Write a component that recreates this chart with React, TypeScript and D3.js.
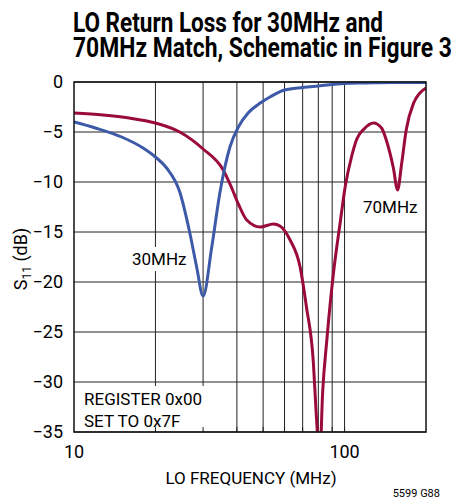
import React, { useLayoutEffect, useRef, useState } from 'react';
import * as d3 from 'd3';

// axis ticks
const freqLabels = [10, 100];
const freqGrid = [20, 30, 40, 50, 60, 70, 80, 90, 100];
const dbTicks = [0, -5, -10, -15, -20, -25, -30, -35];

// 30MHz match (blue)
const blueFreq = [10, 12, 15, 18, 20, 22, 24.6, 26.8, 28.4, 30, 32.3, 34.6, 37.7, 40.5, 44, 48.8, 53, 60, 70, 80, 100, 120, 150, 200];
const blueDb = [-4.0, -4.6, -5.5, -6.6, -7.5, -8.6, -11, -15.1, -18.5, -21.4, -16.5, -11.1, -6.5, -4.5, -3.1, -2.1, -1.5, -0.8, -0.55, -0.4, -0.15, -0.1, -0.05, -0.05];

// 70MHz match (red)
const redFreq = [10, 12.8, 16, 20, 24.6, 30, 35.6, 38, 40.5, 43.5, 48.8, 54.6, 57.7, 62.9, 68.5, 72.3, 76.7, 78.5, 81, 83, 86, 91, 96.3, 100.5, 106.3, 111, 118, 128, 137, 143, 151.5, 157, 162.5, 169, 180, 190, 200];
const redDb = [-3.1, -3.3, -3.6, -4.1, -5.0, -6.7, -8.8, -10.4, -12.2, -13.8, -14.5, -14.2, -14.4, -15.8, -18.5, -22.5, -28.1, -33, -37.5, -31, -25.8, -19.1, -14.1, -10.5, -7.4, -5.7, -4.7, -4.1, -4.6, -5.9, -8.6, -10.8, -8.2, -4.8, -2.1, -1.1, -0.6];

const titleLines = ['LO Return Loss for 30MHz and', '70MHz Match, Schematic in Figure 3'];
const titleWidths = [310, 379];

const W = 458;
const H = 499;
const left = 74, right = 426, top = 82, bottom = 432;
const font = '"Liberation Sans Narrow", "Roboto", sans-serif';

// text squeezed horizontally to a fixed width (condensed look)
function Squeezed(props: { x: number; y: number; width: number; size: number; children: string }) {
  const ref = useRef<SVGTextElement>(null);
  const [sx, setSx] = useState(1);
  useLayoutEffect(() => {
    if (ref.current) {
      const w = ref.current.getComputedTextLength();
      if (w > 0) setSx(props.width / w);
    }
  }, [props.width, props.children]);
  return (
    <text
      ref={ref}
      transform={`translate(${props.x},${props.y}) scale(${sx},1)`}
      fontSize={props.size}
      fontWeight="bold"
    >
      {props.children}
    </text>
  );
}

export default function App() {
  const x = d3.scaleLog().domain([10, 200]).range([left, right]);
  const y = d3.scaleLinear().domain([-35, 0]).range([bottom, top]);

  const line = d3
    .line<[number, number]>()
    .x((d) => x(d[0]))
    .y((d) => y(d[1]))
    .curve(d3.curveMonotoneX);

  const blue = line(blueFreq.map((f, i) => [f, blueDb[i]]) as [number, number][]);
  const red = line(redFreq.map((f, i) => [f, redDb[i]]) as [number, number][]);

  return (
    <svg width={W} height={H} style={{ position: 'absolute', left: 0, top: 0, background: '#fff' }} fontFamily={font}>
      <defs>
        <clipPath id="plot">
          <rect x={left} y={top} width={right - left} height={bottom - top} />
        </clipPath>
      </defs>

      {titleLines.map((t, i) => (
        <Squeezed key={t} x={73} y={32 + i * 25} width={titleWidths[i]} size={27}>
          {t}
        </Squeezed>
      ))}

      {/* grid */}
      {dbTicks.map((d) => (
        <line key={'h' + d} x1={left} x2={right} y1={y(d)} y2={y(d)} stroke="#222" strokeWidth={1} />
      ))}
      {freqGrid.map((f) => (
        <line key={'v' + f} x1={x(f)} x2={x(f)} y1={top} y2={bottom} stroke="#222" strokeWidth={1} />
      ))}

      {/* label backgrounds */}
      <rect x={128} y={247} width={58} height={24} fill="#fff" />
      <rect x={left + 1} y={386} width={148} height={bottom - 386 - 1} fill="#fff" />
      {freqGrid.map((f) => (
        <line key={'t' + f} x1={x(f)} x2={x(f)} y1={bottom} y2={bottom - 5} stroke="#222" strokeWidth={1} />
      ))}

      <g clipPath="url(#plot)" fill="none" strokeLinejoin="round">
        <path d={red ?? ''} stroke="#9b0a3c" strokeWidth={3} />
        <path d={blue ?? ''} stroke="#3d5aa8" strokeWidth={3} />
      </g>

      <rect x={left} y={top} width={right - left} height={bottom - top} fill="none" stroke="#111" strokeWidth={1.5} />

      {/* y ticks */}
      {dbTicks.map((d) => (
        <text key={'yl' + d} x={63} y={y(d)} dy="0.35em" textAnchor="end" fontSize={18}>
          {d < 0 ? '\u2212' + Math.abs(d) : d}
        </text>
      ))}
      {freqLabels.map((f) => (
        <text key={'xl' + f} x={x(f)} y={458} textAnchor="middle" fontSize={18}>
          {f}
        </text>
      ))}

      <text x={251} y={484} textAnchor="middle" fontSize={17}>
        LO FREQUENCY (MHz)
      </text>
      <text transform="translate(27,259) rotate(-90)" textAnchor="middle" fontSize={18}>
        S<tspan fontSize={12} dy={4}>11</tspan>
        <tspan dy={-4}> (dB)</tspan>
      </text>

      <text x={132} y={265} fontSize={17}>30MHz</text>
      <text x={363} y={213} fontSize={17}>70MHz</text>
      <text x={84} y={405} fontSize={17}>REGISTER 0x00</text>
      <text x={84} y={427} fontSize={17}>SET TO 0x7F</text>

      <text x={440} y={497} textAnchor="end" fontSize={11}>5599 G88</text>
    </svg>
  );
}
